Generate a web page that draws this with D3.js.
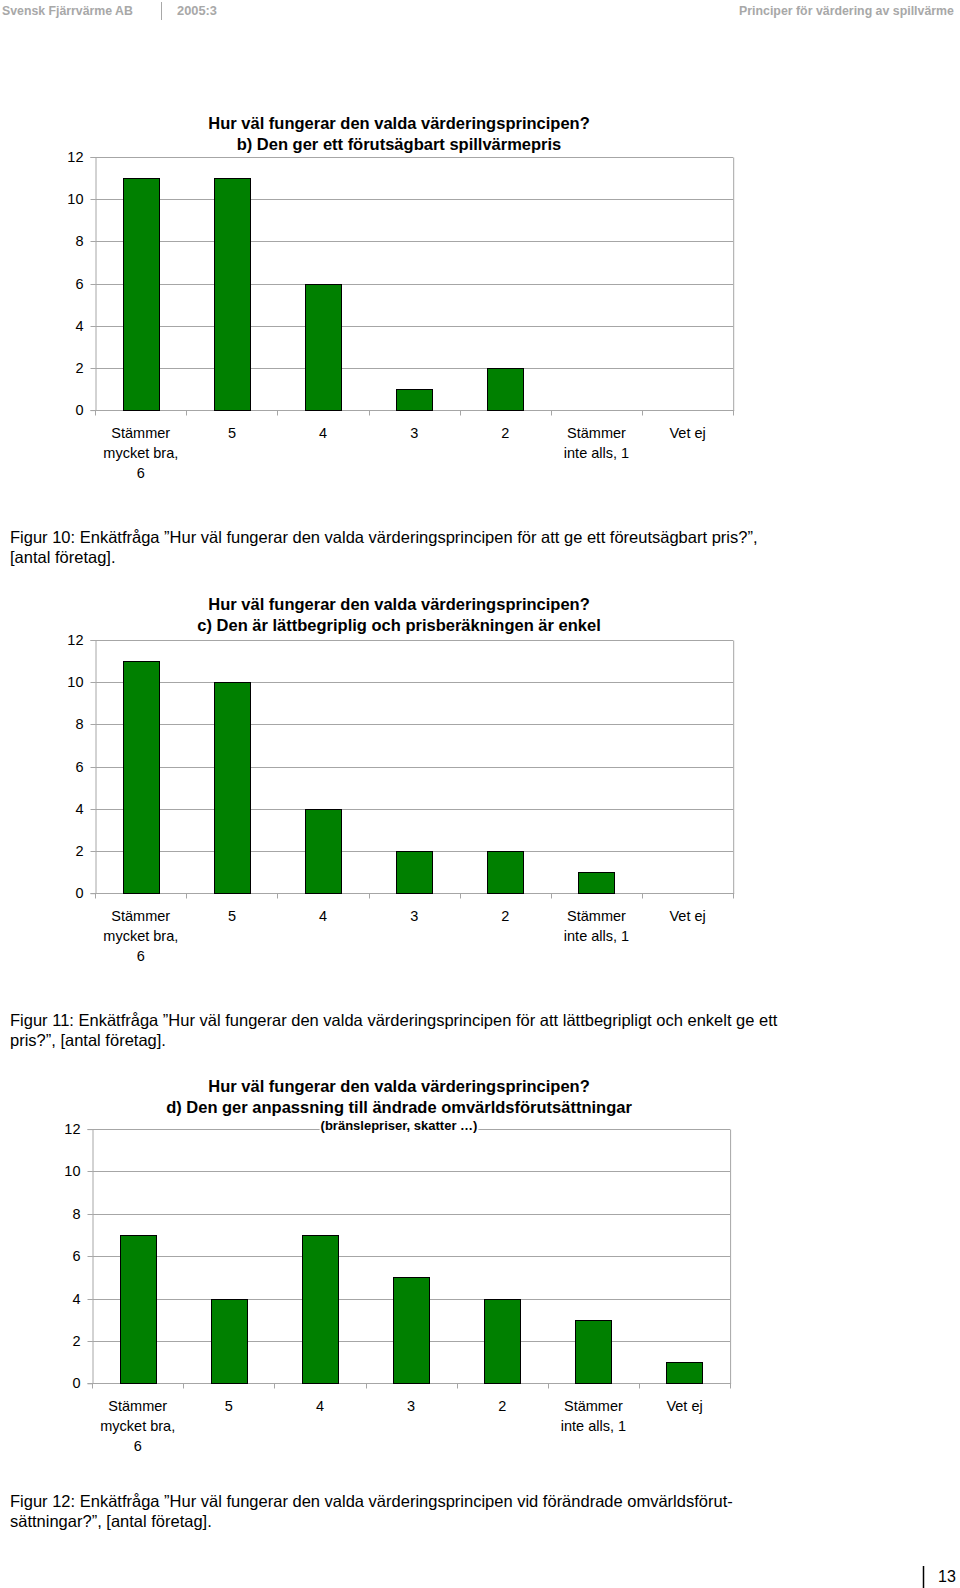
<!DOCTYPE html>
<html><head><meta charset="utf-8">
<script src="https://cdn.jsdelivr.net/npm/d3@7"></script>
<style>
body{margin:0;background:#fff;}
svg{display:block;font-family:"Liberation Sans",Arial,sans-serif;}
</style></head>
<body>
<svg id="page" width="960" height="1588"></svg>
<script>
// ---- data ----
const categories = [["Stämmer","mycket bra,","6"],["5"],["4"],["3"],["2"],["Stämmer","inte alls, 1"],["Vet ej"]];
const categoryKeys = ["Stämmer mycket bra, 6","5","4","3","2","Stämmer inte alls, 1","Vet ej"];
const yTicks = [0,2,4,6,8,10,12];
const valuesB = [11,11,6,1,2,0,0];
const valuesC = [11,10,4,2,2,1,0];
const valuesD = [7,4,7,5,4,3,1];
const titleB = ["Hur väl fungerar den valda värderingsprincipen?","b) Den ger ett förutsägbart spillvärmepris"];
const titleC = ["Hur väl fungerar den valda värderingsprincipen?","c) Den är lättbegriplig och prisberäkningen är enkel"];
const titleD = ["Hur väl fungerar den valda värderingsprincipen?","d) Den ger anpassning till ändrade omvärldsförutsättningar"];
const subtitleD = "(bränslepriser, skatter …)";
const captionB = ["Figur 10: Enkätfråga ”Hur väl fungerar den valda värderingsprincipen för att ge ett föreutsägbart pris?”,","[antal företag]."];
const captionC = ["Figur 11: Enkätfråga ”Hur väl fungerar den valda värderingsprincipen för att lättbegripligt och enkelt ge ett","pris?”, [antal företag]."];
const captionD = ["Figur 12: Enkätfråga ”Hur väl fungerar den valda värderingsprincipen vid förändrade omvärldsförut-","sättningar?”, [antal företag]."];

const svg = d3.select("#page");
const grid = "#a6a6a6";
const hdr = "#a8a8a8";

// header: scaled horizontally so the narrow look of the original is kept
function hText(x,y,t,len){
  const tx = svg.append("text").attr("x",0).attr("y",0).attr("font-size",13.5).attr("font-weight","bold")
    .attr("fill",hdr).text(t);
  const w = tx.node().getComputedTextLength();
  tx.attr("transform",`translate(${x},${y}) scale(${len/w},1)`);
}
hText(2,15,"Svensk Fjärrvärme AB",131);
svg.append("line").attr("x1",161.5).attr("x2",161.5).attr("y1",2).attr("y2",20).attr("stroke",hdr);
hText(177,15,"2005:3",40);
hText(739,15,"Principer för värdering av spillvärme",215);

// page number
svg.append("line").attr("x1",923.5).attr("x2",923.5).attr("y1",1566).attr("y2",1588).attr("stroke","#000").attr("stroke-width",1.5);
svg.append("text").attr("x",938).attr("y",1582).attr("font-size",16).attr("fill","#000").text("13");

function drawChart(cfg){
  const g = svg.append("g");
  const x = d3.scaleBand().domain(categoryKeys).range([cfg.left,cfg.right]).paddingInner(0.6).paddingOuter(0.3);
  const xb = d3.scaleBand().domain(categoryKeys).range([cfg.left,cfg.right]).padding(0);
  const y = d3.scaleLinear().domain([0,12]).range([cfg.bottom,cfg.top]);

  // gridlines
  g.selectAll("line.grid").data(yTicks.filter(d=>d>0)).join("line")
    .attr("x1",cfg.left).attr("x2",cfg.right)
    .attr("y1",d=>Math.round(y(d))+0.5).attr("y2",d=>Math.round(y(d))+0.5)
    .attr("stroke",grid).attr("stroke-width",1);
  // right border
  g.append("line").attr("x1",cfg.right+0.5).attr("x2",cfg.right+0.5)
    .attr("y1",Math.round(cfg.top)+0.5).attr("y2",Math.round(cfg.bottom)+0.5).attr("stroke",grid);

  // y axis
  const ya = d3.axisLeft(y).tickValues(yTicks).tickSize(5).tickPadding(7).tickFormat(d3.format("d"));
  const yg = g.append("g").attr("transform",`translate(${Math.round(cfg.left)+0.5},0)`).call(ya);
  yg.select(".domain").attr("stroke",grid);
  yg.selectAll(".tick line").attr("stroke",grid);
  yg.selectAll(".tick").attr("transform",d=>`translate(0,${Math.round(y(d))+0.5})`);
  yg.selectAll("text").attr("font-size",14.5).attr("fill","#000").attr("font-family","'Liberation Sans',Arial");

  // x axis line and ticks
  const yb = Math.round(cfg.bottom)+0.5;
  g.append("line").attr("x1",cfg.left).attr("x2",cfg.right+1).attr("y1",yb).attr("y2",yb).attr("stroke",grid);
  const bounds = categoryKeys.map(k=>xb(k)).concat([cfg.right]);
  g.selectAll("line.xt").data(bounds).join("line")
    .attr("x1",d=>Math.round(d)+0.5).attr("x2",d=>Math.round(d)+0.5)
    .attr("y1",yb).attr("y2",yb+5).attr("stroke",grid);

  // bars
  g.selectAll("rect.bar").data(cfg.values.map((v,i)=>({k:categoryKeys[i],v}))).join("rect")
    .filter(d=>d.v>0)
    .attr("x",d=>Math.round(x(d.k))+0.5).attr("width",Math.round(x.bandwidth()))
    .attr("y",d=>Math.round(y(d.v))+0.5).attr("height",d=>Math.round(y(0))-Math.round(y(d.v)))
    .attr("fill","#008000").attr("stroke","#000").attr("stroke-width",1);

  // category labels
  categories.forEach((lines,i)=>{
    const cx = xb(categoryKeys[i]) + xb.bandwidth()/2;
    lines.forEach((t,j)=>{
      g.append("text").attr("x",cx).attr("y",cfg.bottom+28+j*19.7)
        .attr("text-anchor","middle").attr("font-size",14.5).attr("fill","#000").text(t);
    });
  });

  // title
  cfg.title.forEach((t,j)=>{
    g.append("text").attr("x",cfg.tcx).attr("y",cfg.ty+j*21.3).attr("text-anchor","middle")
      .attr("font-size",16.5).attr("font-weight","bold").attr("fill","#000").text(t);
  });
  if(cfg.subtitle){
    const st = g.append("text").attr("x",cfg.tcx).attr("y",cfg.sy).attr("text-anchor","middle")
      .attr("font-size",13).attr("font-weight","bold").attr("fill","#000").text(cfg.subtitle);
    const bb = st.node().getBBox();
    g.insert("rect",()=>st.node()).attr("x",bb.x-1).attr("y",bb.y).attr("width",bb.width+2).attr("height",bb.height).attr("fill","#fff");
  }

  // caption
  cfg.caption.forEach((t,j)=>{
    svg.append("text").attr("x",10).attr("y",cfg.cy+j*19.5).attr("font-size",16.5).attr("fill","#000").text(t);
  });
}

drawChart({left:95.2,right:733.2,top:157,bottom:410.1,values:valuesB,title:titleB,tcx:399,ty:129,caption:captionB,cy:543});
drawChart({left:95.2,right:733.2,top:640,bottom:893.2,values:valuesC,title:titleC,tcx:399,ty:610,caption:captionC,cy:1026});
drawChart({left:92.2,right:730.1,top:1129.1,bottom:1383.3,values:valuesD,title:titleD,subtitle:subtitleD,sy:1130,tcx:399,ty:1092,caption:captionD,cy:1507});
</script>
</body></html>
